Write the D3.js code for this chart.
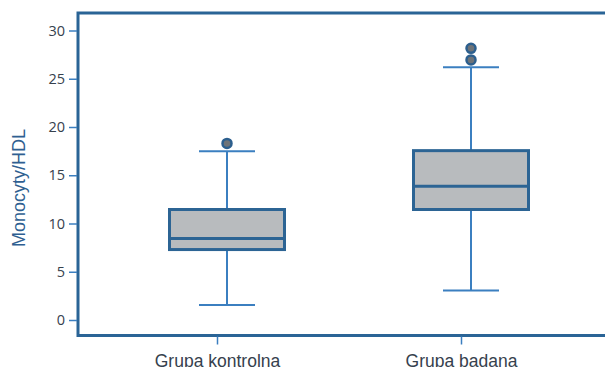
<!DOCTYPE html>
<html>
<head>
<meta charset="utf-8">
<script src="https://cdn.jsdelivr.net/npm/d3@7/dist/d3.min.js"></script>
<style>
  html, body { margin: 0; padding: 0; background: #fff; }
  svg { display: block; }
</style>
</head>
<body>
<svg id="chart" width="605" height="367"></svg>
<script>
// Groups and their box-plot statistics (Monocyty/HDL)
const categories = ["Grupa kontrolna", "Grupa badana"];
const whiskerLow  = [1.55, 3.05];
const quartile1   = [7.3, 11.45];
const medians     = [8.45, 13.85];
const quartile3   = [11.45, 17.55];
const whiskerHigh = [17.5, 26.2];
const outliers    = [[18.3], [26.95, 28.15]];
const yTicks      = [0, 5, 10, 15, 20, 25, 30];
const yLabel      = "Monocyty/HDL";

const svg = d3.select("#chart");

const frame = { left: 78, top: 13, bottom: 335.5 };

const y = d3.scaleLinear().domain([0, 30]).range([320, 30.5]);
const x = d3.scalePoint().domain(categories).range([217, 461]);

const boxShift = 10;   // boxes sit slightly right of the category ticks
const boxWidth = 115;
const capWidth = 56;

const frameColor = "#2a6496";
const whiskerColor = "#3b7fc0";
const boxStroke = "#2c6494";
const boxFill = "#b8bbbe";
const textColor = "#36414d";

// Frame: left, top and bottom edges (open to the right)
svg.append("path")
  .attr("d", `M640,${frame.top}H${frame.left}V${frame.bottom}H640`)
  .attr("fill", "none")
  .attr("stroke", frameColor)
  .attr("stroke-width", 3);

// Y axis
const yAxis = d3.axisLeft(y).tickValues(yTicks).tickSize(8).tickPadding(4);
const gy = svg.append("g").attr("transform", `translate(${frame.left - 1},0)`).call(yAxis);
gy.select(".domain").remove();
gy.selectAll(".tick line").attr("stroke", whiskerColor).attr("stroke-width", 1.5);
gy.selectAll(".tick text")
  .attr("fill", textColor)
  .style("font-family", "'Open Sans', sans-serif")
  .style("font-size", "14.5px");

// X axis
const xAxis = d3.axisBottom(x).tickSize(8).tickPadding(10);
const gx = svg.append("g").attr("transform", `translate(0,${frame.bottom + 1})`).call(xAxis);
gx.select(".domain").remove();
gx.selectAll(".tick line").attr("stroke", whiskerColor).attr("stroke-width", 1.5);
gx.selectAll(".tick text")
  .attr("fill", textColor)
  .style("font-family", "'Liberation Sans', Arial, sans-serif")
  .style("font-size", "17.5px");

// Y axis title
svg.append("text")
  .attr("transform", `translate(25,188) rotate(-90)`)
  .attr("text-anchor", "middle")
  .attr("fill", "#2f5f91")
  .style("font-family", "'Liberation Sans', Arial, sans-serif")
  .style("font-size", "18px")
  .text(yLabel);

// Box plots
const groups = categories.map((c, i) => ({
  name: c,
  lo: whiskerLow[i], q1: quartile1[i], med: medians[i],
  q3: quartile3[i], hi: whiskerHigh[i], out: outliers[i]
}));

const g = svg.selectAll(".box").data(groups).enter().append("g")
  .attr("class", "box")
  .attr("transform", d => `translate(${x(d.name) + boxShift},0)`);

// whisker stems
g.append("line").attr("x1", 0).attr("x2", 0)
  .attr("y1", d => y(d.hi)).attr("y2", d => y(d.q3))
  .attr("stroke", whiskerColor).attr("stroke-width", 2);
g.append("line").attr("x1", 0).attr("x2", 0)
  .attr("y1", d => y(d.q1)).attr("y2", d => y(d.lo))
  .attr("stroke", whiskerColor).attr("stroke-width", 2);
// caps
g.append("line").attr("x1", -capWidth / 2).attr("x2", capWidth / 2)
  .attr("y1", d => y(d.hi)).attr("y2", d => y(d.hi))
  .attr("stroke", whiskerColor).attr("stroke-width", 2);
g.append("line").attr("x1", -capWidth / 2).attr("x2", capWidth / 2)
  .attr("y1", d => y(d.lo)).attr("y2", d => y(d.lo))
  .attr("stroke", whiskerColor).attr("stroke-width", 2);
// box
g.append("rect")
  .attr("x", -boxWidth / 2).attr("width", boxWidth)
  .attr("y", d => y(d.q3)).attr("height", d => y(d.q1) - y(d.q3))
  .attr("fill", boxFill).attr("stroke", boxStroke).attr("stroke-width", 3);
// median
g.append("line").attr("x1", -boxWidth / 2).attr("x2", boxWidth / 2)
  .attr("y1", d => y(d.med)).attr("y2", d => y(d.med))
  .attr("stroke", boxStroke).attr("stroke-width", 3);
// outliers
g.selectAll(".out").data(d => d.out).enter().append("circle")
  .attr("class", "out")
  .attr("cx", 0).attr("cy", v => y(v)).attr("r", 4.5)
  .attr("fill", "#6e7378").attr("stroke", "#2c5f8e").attr("stroke-width", 2.5);
</script>
</body>
</html>
